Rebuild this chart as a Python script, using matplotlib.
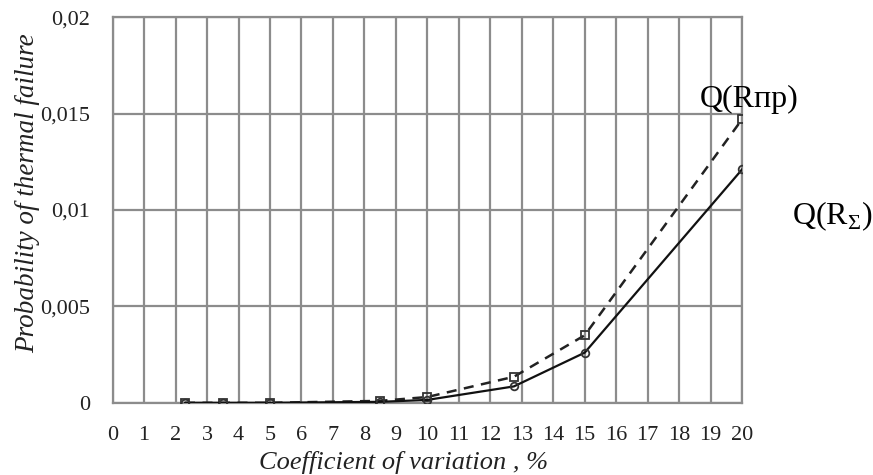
import matplotlib.pyplot as plt

plt.rcParams['font.family'] = ['Liberation Serif', 'DejaVu Serif']
plt.rcParams['mathtext.fontset'] = 'custom'
plt.rcParams['mathtext.rm'] = 'Liberation Serif'

# coefficient of variation, %
cv = [2.3, 3.5, 5, 8.5, 10, 12.75, 15, 20]
# Q(R_pr) - dashed, squares
q_pr = [0, 0, 0, 0.0001, 0.0003, 0.00135, 0.0035, 0.0147]
# Q(R_sigma) - solid, circles
q_sum = [0, 0, 0, 0.00005, 0.00015, 0.00085, 0.0026, 0.0121]

x_ticks = list(range(0, 21))
y_ticks = [0, 0.005, 0.01, 0.015, 0.02]
y_labels = ['0', '0,005', '0,01', '0,015', '0,02']

fig = plt.figure(figsize=(8.73, 4.75), dpi=100)
ax = fig.add_axes([0.129, 0.152, 0.721, 0.812])

grid_col = '#8c8c8c'
ax.plot(cv, q_pr, color='#222222', lw=1.8, ls=(0, (4, 3)), marker='s',
        ms=5.5, mfc='none', mec='#333333', mew=1.3, zorder=3)
ax.plot(cv, q_sum, color='#111111', lw=1.6, marker='o',
        ms=5.5, mfc='none', mec='#333333', mew=1.3, zorder=3)

ax.set_xlim(0, 20)
ax.set_ylim(0, 0.02)
ax.set_xticks(x_ticks)
ax.set_yticks(y_ticks)
ax.set_yticklabels(y_labels)
ax.grid(True, color=grid_col, lw=1.6)
ax.tick_params(length=0, labelsize=16, colors='#222222')
ax.tick_params(axis='x', pad=17)
ax.tick_params(axis='y', pad=16)
for s in ax.spines.values():
    s.set_color(grid_col)
    s.set_linewidth(1.6)

fig.text(0.462, 0.027, 'Coefficient of variation , %', fontsize=19,
         style='italic', ha='center', va='center', color='#222222')
fig.text(0.032, 0.594, 'Probability of thermal failure', fontsize=19.5,
         style='italic', rotation=90, ha='center', va='center', color='#222222')

fig.text(0.802, 0.79, 'Q(Rпр)', fontsize=23, ha='left', va='center')
fig.text(0.907, 0.545, r'Q(R$_{\Sigma}$)', fontsize=23, ha='left', va='center')

fig.savefig('out.png', dpi=100)
